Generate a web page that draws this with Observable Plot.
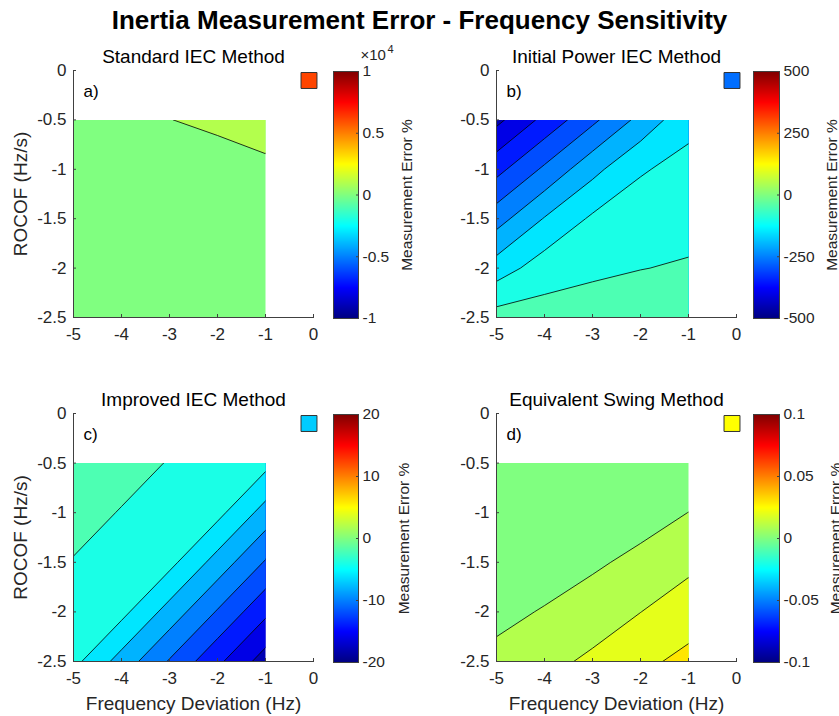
<!DOCTYPE html>
<html><head><meta charset="utf-8">
<script src="https://cdn.jsdelivr.net/npm/d3@7"></script>
<script src="https://cdn.jsdelivr.net/npm/@observablehq/plot@0.6"></script>
<style>
body{margin:0;background:#fff;}
#root{position:relative;width:839px;height:716px;overflow:hidden;background:#fff;font-family:"Liberation Sans",Arial,sans-serif;}
#root svg{position:absolute;overflow:visible;}
#title{position:absolute;left:0;top:5px;width:839px;text-align:center;font-weight:bold;font-size:26px;color:#000;font-family:"Liberation Sans",Arial,sans-serif;}
</style></head>
<body><div id="root"><div id="title">Inertia Measurement Error - Frequency Sensitivity</div></div>
<script>
// ---- data ----
const freqDeviation = [-5, -4, -3, -2, -1];          // grid columns (Hz)
const rocofValues = [-0.5, -1, -1.5, -2, -2.5];      // grid rows (Hz/s)
const xTickValues = [-5, -4, -3, -2, -1, 0];
const yTickValues = [0, -0.5, -1, -1.5, -2, -2.5];
const panelTitles = ["Standard IEC Method", "Initial Power IEC Method", "Improved IEC Method", "Equivalent Swing Method"];
const panelTags = ["a)", "b)", "c)", "d)"];
const xAxisLabel = "Frequency Deviation (Hz)";
const yAxisLabel = "ROCOF (Hz/s)";
const colorbarLabel = "Measurement Error %";

// measurement error % (rows = ROCOF, columns = frequency deviation)
const errorStandardIEC = [
  850, 925, 995, 1060, 1130,
  660, 730, 800, 870, 940,
  470, 540, 610, 680, 750,
  280, 350, 420, 490, 560,
  90, 160, 230, 300, 370
];
const errorInitialPowerIEC = [
  -413, -336, -261, -185, -113,
  -316, -241, -165, -104, -86,
  -221, -147, -92, -78, -64,
  -126, -74, -60, -51, -46,
  -29, -29, -24, -24, -24
];
const errorImprovedIEC = [
  -0.36, -1.23, -2.11, -2.98, -3.42,
  -1.23, -2.11, -2.98, -3.42, -6.80,
  -2.11, -2.98, -3.42, -6.80, -10.18,
  -2.98, -3.42, -6.80, -10.18, -13.56,
  -3.42, -6.80, -10.18, -13.56, -16.94
];
const errorEquivalentSwing = [
  0.0003, 0.0005, 0.0010, 0.0015, 0.0024,
  0.0005, 0.0008, 0.0016, 0.0056, 0.0101,
  0.0010, 0.0045, 0.00835, 0.0127, 0.0177,
  0.0070, 0.0108, 0.01506, 0.0199, 0.0252,
  0.0130, 0.0172, 0.0218, 0.0277, 0.0327
];
const colorLimits = [10000, 500, 20, 0.1];
const contourLevelsStandard = [1000];
const contourLevelsInitialPower = [-400, -350, -300, -250, -200, -150, -100, -50];
const contourLevelsImproved = [-16, -14, -12, -10, -8, -6, -4, -2];
const contourLevelsSwing = [0.01, 0.02, 0.03];
const lowestBand = [0, -450, -18, 0];
const colorbarTicksStandard = [-10000, -5000, 0, 5000, 10000];
const colorbarTicksInitialPower = [-500, -250, 0, 250, 500];
const colorbarTicksImproved = [-20, -10, 0, 10, 20];
const colorbarTicksSwing = [-0.1, -0.05, 0, 0.05, 0.1];
const colorbarExponent = [4, 0, 0, 0];
const swatchValues = [6150, -267, -7, 0.025];

// jet colormap
const jetStops = [0, 0.125, 0.375, 0.625, 0.875, 1];
const jetColors = ["#000080", "#0000ff", "#00ffff", "#ffff00", "#ff0000", "#800000"];

const grids = [errorStandardIEC, errorInitialPowerIEC, errorImprovedIEC, errorEquivalentSwing];
const levels = [contourLevelsStandard, contourLevelsInitialPower, contourLevelsImproved, contourLevelsSwing];
const cbTicks = [colorbarTicksStandard, colorbarTicksInitialPower, colorbarTicksImproved, colorbarTicksSwing];

// ---- layout ----
const layout = [
  {left: 0,   top: 40,  height: 310, mb: 33, cbLeft: 330, cbWidth: 93, cbMR: 65, cbMB: 32, cbLabelDx: 49, yLabel: true,  xLabel: false},
  {left: 423, top: 40,  height: 310, mb: 33, cbLeft: 750, cbWidth: 89, cbMR: 60, cbMB: 32, cbLabelDx: 53, yLabel: false, xLabel: false},
  {left: 0,   top: 383, height: 333, mb: 55, cbLeft: 330, cbWidth: 93, cbMR: 65, cbMB: 54, cbLabelDx: 46, yLabel: true,  xLabel: true},
  {left: 423, top: 383, height: 333, mb: 55, cbLeft: 750, cbWidth: 89, cbMR: 60, cbMB: 54, cbLabelDx: 57, yLabel: false, xLabel: true}
];

const root = document.getElementById("root");
const axisColor = "#404040";
const font = '"Liberation Sans", Arial, sans-serif';

const nx = freqDeviation.length, ny = rocofValues.length;
const gx = freqDeviation[1] - freqDeviation[0];
const gy = rocofValues[1] - rocofValues[0];
const gridX1 = freqDeviation[0] - gx / 2, gridX2 = freqDeviation[nx - 1] + gx / 2;
const gridY1 = rocofValues[0] - gy / 2, gridY2 = rocofValues[ny - 1] + gy / 2;

function place(svg, left, top) {
  svg.style.left = left + "px";
  svg.style.top = top + "px";
  root.appendChild(svg);
}

for (let i = 0; i < 4; i++) {
  const L = layout[i];
  const lim = colorLimits[i];
  const colorScale = {type: "linear", domain: jetStops.map(t => lim * (2 * t - 1)), range: jetColors, interpolate: "rgb", clamp: true};
  const gridOpts = {width: nx, height: ny, x1: gridX1, x2: gridX2, y1: gridY1, y2: gridY2, value: Plot.identity};

  const marks = [
    Plot.contour(grids[i], {...gridOpts, thresholds: [lowestBand[i], ...levels[i]], fill: "value", stroke: "none"}),
    Plot.contour(grids[i], {...gridOpts, thresholds: levels[i], fill: "none", stroke: "black", strokeWidth: 0.8}),
    Plot.frame({anchor: "left", stroke: axisColor}),
    Plot.frame({anchor: "bottom", stroke: axisColor}),
    Plot.axisX({ticks: xTickValues, tickFormat: d => String(d), tickSize: -3, tickPadding: 13, fontSize: 17, color: "#262626", stroke: axisColor, label: null}),
    Plot.axisY({ticks: yTickValues, tickFormat: d => String(d), tickSize: -3, tickPadding: 10, fontSize: 17, color: "#262626", stroke: axisColor, label: null}),
    Plot.text([panelTitles[i]], {frameAnchor: "top", dy: -14, textAnchor: "middle", lineAnchor: "middle", fontSize: 19, fill: "#000"}),
    Plot.text([panelTags[i]], {frameAnchor: "top-left", dx: 10, dy: 21, textAnchor: "start", lineAnchor: "middle", fontSize: 17, fill: "#000"}),
    Plot.dot([swatchValues[i]], {frameAnchor: "top-right", dx: -4.5, dy: 10, symbol: "square", r: 9, fill: d => d, stroke: "#333", strokeWidth: 1})
  ];
  if (L.yLabel) marks.push(Plot.text([yAxisLabel], {frameAnchor: "left", dx: -53, rotate: -90, textAnchor: "middle", lineAnchor: "middle", fontSize: 19, fill: "#262626"}));
  if (L.xLabel) marks.push(Plot.text([xAxisLabel], {frameAnchor: "bottom", dy: 42, textAnchor: "middle", lineAnchor: "middle", fontSize: 19, fill: "#262626"}));

  const main = Plot.plot({
    width: 330, height: L.height,
    marginLeft: 73, marginRight: 17, marginTop: 30, marginBottom: L.mb,
    x: {domain: [xTickValues[0], xTickValues[xTickValues.length - 1]]},
    y: {domain: [yTickValues[yTickValues.length - 1], yTickValues[0]]},
    color: colorScale,
    style: {fontFamily: font, background: "none", overflow: "visible"},
    marks
  });
  // clip contours to the sampled data extent
  const sx = main.scale("x"), sy = main.scale("y");
  const [xa, xb] = d3.extent(freqDeviation), [ya, yb] = d3.extent(rocofValues);
  const sel = d3.select(main);
  const id = "clip-" + i;
  sel.insert("defs", ":first-child").append("clipPath").attr("id", id).append("rect")
    .attr("x", sx.apply(xa)).attr("y", sy.apply(yb))
    .attr("width", sx.apply(xb) - sx.apply(xa)).attr("height", sy.apply(ya) - sy.apply(yb));
  sel.selectAll('g[aria-label="contour"]').attr("clip-path", `url(#${id})`);
  place(main, L.left, L.top);

  // colorbar
  const div = Math.pow(10, colorbarExponent[i]);
  const cbMarks = [
    Plot.raster({x1: 0, x2: 1, y1: -lim, y2: lim, fill: (x, y) => y, pixelSize: 1}),
    Plot.frame({stroke: axisColor}),
    Plot.axisY({anchor: "right", ticks: cbTicks[i], tickFormat: d => String(+(d / div).toPrecision(6)), tickSize: -3, tickPadding: 7, fontSize: 15.5, color: "#262626", stroke: axisColor, label: null}),
    Plot.text([colorbarLabel], {frameAnchor: "right", dx: L.cbLabelDx, rotate: -90, textAnchor: "middle", lineAnchor: "middle", fontSize: 15.5, fill: "#262626"})
  ];
  if (colorbarExponent[i]) {
    cbMarks.push(Plot.text(["×10"], {frameAnchor: "top-right", dx: 2, dy: -16, textAnchor: "start", lineAnchor: "middle", fontSize: 15, fill: "#262626"}));
    cbMarks.push(Plot.text([String(colorbarExponent[i])], {frameAnchor: "top-right", dx: 29, dy: -22, textAnchor: "start", lineAnchor: "middle", fontSize: 11, fill: "#262626"}));
  }
  const cb = Plot.plot({
    width: L.cbWidth, height: L.height,
    marginLeft: 3, marginRight: L.cbMR, marginTop: 31, marginBottom: L.cbMB,
    x: {domain: [0, 1], axis: null},
    y: {domain: [-lim, lim], axis: null},
    color: colorScale,
    style: {fontFamily: font, background: "none", overflow: "visible"},
    marks: cbMarks
  });
  place(cb, L.cbLeft, L.top);
}
</script>
</body></html>
